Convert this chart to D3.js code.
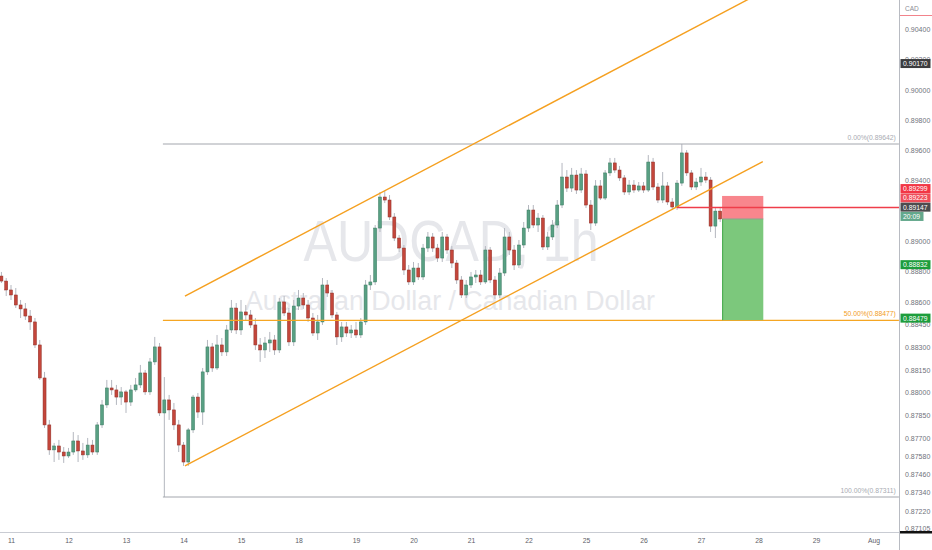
<!DOCTYPE html>
<html><head><meta charset="utf-8">
<script src="https://cdn.jsdelivr.net/npm/d3@7"></script>
<style>html,body{margin:0;padding:0;background:#fff;overflow:hidden}svg{display:block;font-family:"Liberation Sans",Arial,sans-serif}</style>
</head><body><svg id="c" width="932" height="550"></svg>
<script>
// ---- data (2h bars, index 0 = Jul 11 00:00) ----
const barStart = -2;
const firstOpen = 0.88770;
const closes = [
0.88737,0.88678,0.88645,0.88579,0.88553,0.88506,0.88467,0.88315,0.88097,0.87787,
0.87622,0.87648,0.87608,0.87582,0.87608,0.87681,0.87615,0.87589,0.87654,0.87608,
0.87787,0.87919,0.88031,0.88018,0.87971,0.88005,0.87938,0.88018,0.88051,0.88130,
0.88005,0.88203,0.88302,0.87866,0.87952,0.87886,0.87787,0.87654,0.87542,0.87754,
0.87971,0.87872,0.88137,0.88302,0.88163,0.88315,0.88269,0.88414,0.88559,0.88414,
0.88533,0.88513,0.88447,0.88315,0.88282,0.88328,0.88348,0.88282,0.88599,0.88526,
0.88335,0.88572,0.88625,0.88579,0.88493,0.88394,0.88467,0.88711,0.88658,0.88513,
0.88368,0.88434,0.88394,0.88414,0.88381,0.88467,0.88711,0.88731,0.89087,0.89292,
0.89272,0.89160,0.89021,0.88955,0.88810,0.88731,0.88823,0.88764,0.88955,0.89028,
0.88955,0.88889,0.89028,0.88942,0.88856,0.88744,0.88645,0.88711,0.88764,0.88777,
0.88731,0.88942,0.88744,0.88645,0.88790,0.89028,0.88942,0.88843,0.88975,0.89087,
0.89206,0.89107,0.89153,0.88962,0.89028,0.89107,0.89239,0.89424,0.89351,0.89437,
0.89338,0.89444,0.89239,0.89120,0.89365,0.89285,0.89451,0.89517,0.89470,0.89418,
0.89325,0.89371,0.89338,0.89365,0.89338,0.89523,0.89358,0.89272,0.89365,0.89259,
0.89226,0.89384,0.89583,0.89451,0.89358,0.89391,0.89424,0.89404,0.89100,0.89199,
0.89147];
const highs = [
0.88797,0.88757,0.88711,0.88691,0.88612,0.88592,0.88546,0.88493,0.88348,0.88137,
0.87820,0.87668,0.87688,0.87641,0.87635,0.87740,0.87720,0.87668,0.87701,0.87688,
0.87806,0.87952,0.88084,0.88084,0.88051,0.88037,0.88018,0.88051,0.88097,0.88183,
0.88150,0.88229,0.88368,0.88328,0.88103,0.87985,0.87932,0.87820,0.87674,0.87767,
0.87985,0.87998,0.88163,0.88348,0.88328,0.88381,0.88361,0.88447,0.88612,0.88592,
0.88612,0.88579,0.88546,0.88493,0.88361,0.88368,0.88401,0.88381,0.88625,0.88638,
0.88559,0.88612,0.88678,0.88658,0.88612,0.88526,0.88513,0.88757,0.88744,0.88678,
0.88533,0.88467,0.88467,0.88447,0.88467,0.88493,0.88744,0.88777,0.89107,0.89325,
0.89332,0.89305,0.89186,0.89041,0.88975,0.88843,0.88863,0.88856,0.88982,0.89061,
0.89054,0.88982,0.89061,0.89048,0.88968,0.88876,0.88770,0.88744,0.88797,0.88810,
0.88810,0.88968,0.88962,0.88770,0.88823,0.89087,0.89061,0.88975,0.89008,0.89127,
0.89239,0.89239,0.89186,0.89173,0.89061,0.89140,0.89272,0.89517,0.89470,0.89484,
0.89470,0.89484,0.89470,0.89272,0.89404,0.89404,0.89470,0.89550,0.89550,0.89497,
0.89437,0.89404,0.89404,0.89391,0.89391,0.89569,0.89550,0.89384,0.89457,0.89391,
0.89285,0.89404,0.89642,0.89602,0.89470,0.89418,0.89484,0.89457,0.89424,0.89219,
0.89219];
const lows = [
0.88724,0.88638,0.88612,0.88559,0.88493,0.88480,0.88414,0.88295,0.88084,0.87767,
0.87589,0.87542,0.87556,0.87536,0.87569,0.87589,0.87542,0.87556,0.87569,0.87589,
0.87589,0.87767,0.87899,0.87985,0.87919,0.87919,0.87866,0.87912,0.88005,0.88031,
0.87985,0.87985,0.88183,0.87846,0.87311,0.87820,0.87754,0.87608,0.87516,0.87516,
0.87734,0.87833,0.87787,0.88117,0.88137,0.88150,0.88242,0.88242,0.88394,0.88387,
0.88381,0.88480,0.88427,0.88282,0.88203,0.88229,0.88269,0.88249,0.88262,0.88506,
0.88308,0.88308,0.88546,0.88553,0.88467,0.88374,0.88348,0.88447,0.88632,0.88493,
0.88315,0.88335,0.88368,0.88361,0.88361,0.88361,0.88447,0.88678,0.88711,0.89061,
0.89252,0.89140,0.89001,0.88929,0.88777,0.88711,0.88711,0.88744,0.88744,0.88929,
0.88929,0.88863,0.88863,0.88916,0.88823,0.88718,0.88625,0.88625,0.88691,0.88724,
0.88711,0.88718,0.88724,0.88619,0.88625,0.88770,0.88909,0.88810,0.88823,0.88955,
0.89061,0.89087,0.89061,0.88942,0.88942,0.89008,0.89087,0.89219,0.89325,0.89325,
0.89312,0.89319,0.89219,0.89074,0.89101,0.89272,0.89272,0.89431,0.89451,0.89398,
0.89305,0.89305,0.89319,0.89325,0.89319,0.89325,0.89338,0.89252,0.89252,0.89239,
0.89206,0.89206,0.89365,0.89431,0.89338,0.89338,0.89365,0.89384,0.89061,0.89021,
0.89127];
const dayLabels = ['11','12','13','14','15','18','19','20','21','22','25','26','27','28','29','Aug'];
const priceTicks = [0.904,0.902,0.900,0.898,0.896,0.894,0.890,0.888,0.886,0.8845,0.883,0.8815,0.880,0.8785,0.877,0.8758,0.8746,0.8734,0.8722,0.87105];
const fibLevels = [{label:'0.00%', value:0.89642},{label:'50.00%', value:0.88477},{label:'100.00%', value:0.87311}];
const fibSpan = [31.7, 185.3];
const channelLower = [{i:36.3, p:0.87516},{i:156.9, p:0.89526}];
const channelWidth = 0.01122;
const position = {start:148.4, end:157, entry:0.89147, stop:0.89299, target:0.88479};
const hLine = {start:139, value:0.89223};
const markerLabels = [{text:'0.90170', value:0.90170}];
const stackLabels = ['0.89299','0.89223','0.89147','20:09'];
const greenLabels = [{text:'0.88832', value:0.88832},{text:'0.88479', value:0.88479}];

// ---- build bars ----
const bars = closes.map((c,j)=>{
  const o = j===0 ? firstOpen : closes[j-1];
  return {i: barStart+j, o, c, h: Math.max(highs[j],o,c), l: Math.min(lows[j],o,c)};
});

const W=932,H=550, plotR=899, plotB=532;
const svg = d3.select('#c');
const x = d3.scaleLinear().domain([0,180]).range([11,873.5]);
const y = d3.scaleLinear().domain([0.87311,0.89642]).range([497,144]);

svg.append('defs').append('clipPath').attr('id','plot').append('rect').attr('x',0).attr('y',0).attr('width',plotR).attr('height',plotB);
const g = svg.append('g').attr('clip-path','url(#plot)');

// watermark
g.append('text').attr('x',451).attr('y',261).attr('text-anchor','middle')
 .attr('font-size',57).attr('fill','#e6e7eb').attr('textLength',295).attr('lengthAdjust','spacingAndGlyphs')
 .text('AUDCAD, 1h');
g.append('text').attr('x',450).attr('y',310).attr('text-anchor','middle')
 .attr('font-size',27).attr('fill','#e6e7eb').attr('textLength',410).attr('lengthAdjust','spacingAndGlyphs')
 .text('Australian Dollar / Canadian Dollar');

// candles
const bw = 3.0;
const cg = g.append('g');
cg.selectAll('line.w').data(bars).join('line').attr('class','w')
 .attr('x1',d=>x(d.i)).attr('x2',d=>x(d.i)).attr('y1',d=>y(d.h)).attr('y2',d=>y(d.l))
 .attr('stroke','#b4b7bf').attr('stroke-width',1);
cg.selectAll('rect.b').data(bars).join('rect').attr('class','b')
 .attr('x',d=>x(d.i)-bw/2).attr('width',bw)
 .attr('y',d=>y(Math.max(d.o,d.c)))
 .attr('height',d=>Math.max(1,Math.abs(y(d.o)-y(d.c))))
 .attr('fill',d=>d.c>=d.o?'#58a083':'#c4463b')
 .attr('stroke',d=>d.c>=d.o?'#3a7a60':'#8f2f27').attr('stroke-width',0.5);

// fib lines
fibLevels.forEach((f,k)=>{
  const col = k===1 ? '#f5a623' : '#a3a6ad';
  g.append('line').attr('x1',x(fibSpan[0])).attr('x2',x(fibSpan[1])).attr('y1',y(f.value)).attr('y2',y(f.value))
   .attr('stroke',col).attr('stroke-width',k===1?1.3:1);
  g.append('text').attr('x',x(fibSpan[1])-3).attr('y',y(f.value)-4.5).attr('text-anchor','end')
   .attr('font-size',6.8).attr('fill',k===1?'#f29d1e':'#a8abb2')
   .text(f.label+'('+f.value.toFixed(5)+')');
});

// channel
const chLine = d3.line().x(d=>x(d.i)).y(d=>y(d.p));
g.append('path').attr('d',chLine(channelLower)).attr('fill','none').attr('stroke','#f5a020').attr('stroke-width',1.4);
g.append('path').attr('d',chLine(channelLower.map(d=>({i:d.i,p:d.p+channelWidth})))).attr('fill','none').attr('stroke','#f5a020').attr('stroke-width',1.4);

// position tool
g.append('rect').attr('x',x(position.start)).attr('width',x(position.end)-x(position.start))
 .attr('y',y(position.stop)).attr('height',y(position.entry)-y(position.stop)).attr('fill','#f8868d');
g.append('rect').attr('x',x(position.start)).attr('width',x(position.end)-x(position.start))
 .attr('y',y(position.entry)).attr('height',y(position.target)-y(position.entry)).attr('fill','#7cc87c');
g.append('line').attr('x1',x(position.start)+0.5).attr('x2',x(position.start)+0.5).attr('y1',y(position.entry)).attr('y2',y(position.target))
 .attr('stroke','#4fae55').attr('stroke-width',1.2);
g.append('line').attr('x1',x(position.start)).attr('x2',x(position.end)).attr('y1',y(position.entry)).attr('y2',y(position.entry))
 .attr('stroke','#8fa08f').attr('stroke-width',1);

// horizontal ray
g.append('line').attr('x1',x(hLine.start)).attr('x2',plotR).attr('y1',y(hLine.value)).attr('y2',y(hLine.value))
 .attr('stroke','#ef3d4a').attr('stroke-width',1.4);

// axes frame
svg.append('line').attr('x1',plotR+0.5).attr('x2',plotR+0.5).attr('y1',0).attr('y2',H).attr('stroke','#b8bbc2');
svg.append('line').attr('x1',0).attr('x2',plotR).attr('y1',plotB+0.5).attr('y2',plotB+0.5).attr('stroke','#c9ccd3');
svg.append('rect').attr('x',plotR+1).attr('y',plotB-1).attr('width',W-plotR).attr('height',2.5).attr('fill','#111');

// right axis
const ra = svg.append('g').attr('transform',`translate(${plotR},0)`)
 .call(d3.axisRight(y).tickValues(priceTicks).tickFormat(d3.format('.5f')).tickSize(0).tickPadding(6));
ra.select('.domain').remove();
ra.selectAll('text').attr('font-size',7).attr('fill','#6f727b').attr('font-family','"Liberation Sans",Arial,sans-serif');

// bottom axis
const ba = svg.append('g').attr('transform',`translate(0,${plotB})`)
 .call(d3.axisBottom(x).tickValues(d3.range(dayLabels.length).map(k=>k*12)).tickFormat((d,k)=>dayLabels[k]).tickSize(0).tickPadding(6));
ba.select('.domain').remove();
ba.selectAll('text').attr('font-size',6.8).attr('fill','#5d6069').attr('font-family','"Liberation Sans",Arial,sans-serif');

// currency label
svg.append('text').attr('x',905).attr('y',11).attr('font-size',6.5).attr('fill','#8a8d95').text('CAD');
svg.append('line').attr('x1',plotR+1).attr('x2',W).attr('y1',15.5).attr('y2',15.5).attr('stroke','#f2838b').attr('stroke-width',1);

// price labels
function box(text, cy, fill, w){
  svg.append('rect').attr('x',plotR+1.5).attr('y',cy-4.5).attr('width',w||30).attr('height',9).attr('fill',fill);
  svg.append('text').attr('x',plotR+4).attr('y',cy+2.4).attr('font-size',6.8).attr('fill','#fff').text(text);
}
markerLabels.forEach(m=>box(m.text, y(m.value)-0.5, '#3d3d3f'));
const stackFill = ['#f23645','#ef4d59','#4c4c4e','#64a88c'];
const base = y(position.entry)-2.5;
stackLabels.forEach((t,k)=>box(t, base-(stackLabels.length-1-k)*9.3, stackFill[k], k===3?23:30));
greenLabels.forEach(m=>box(m.text, y(m.value)-2, '#1d9d3c'));
</script></body></html>
